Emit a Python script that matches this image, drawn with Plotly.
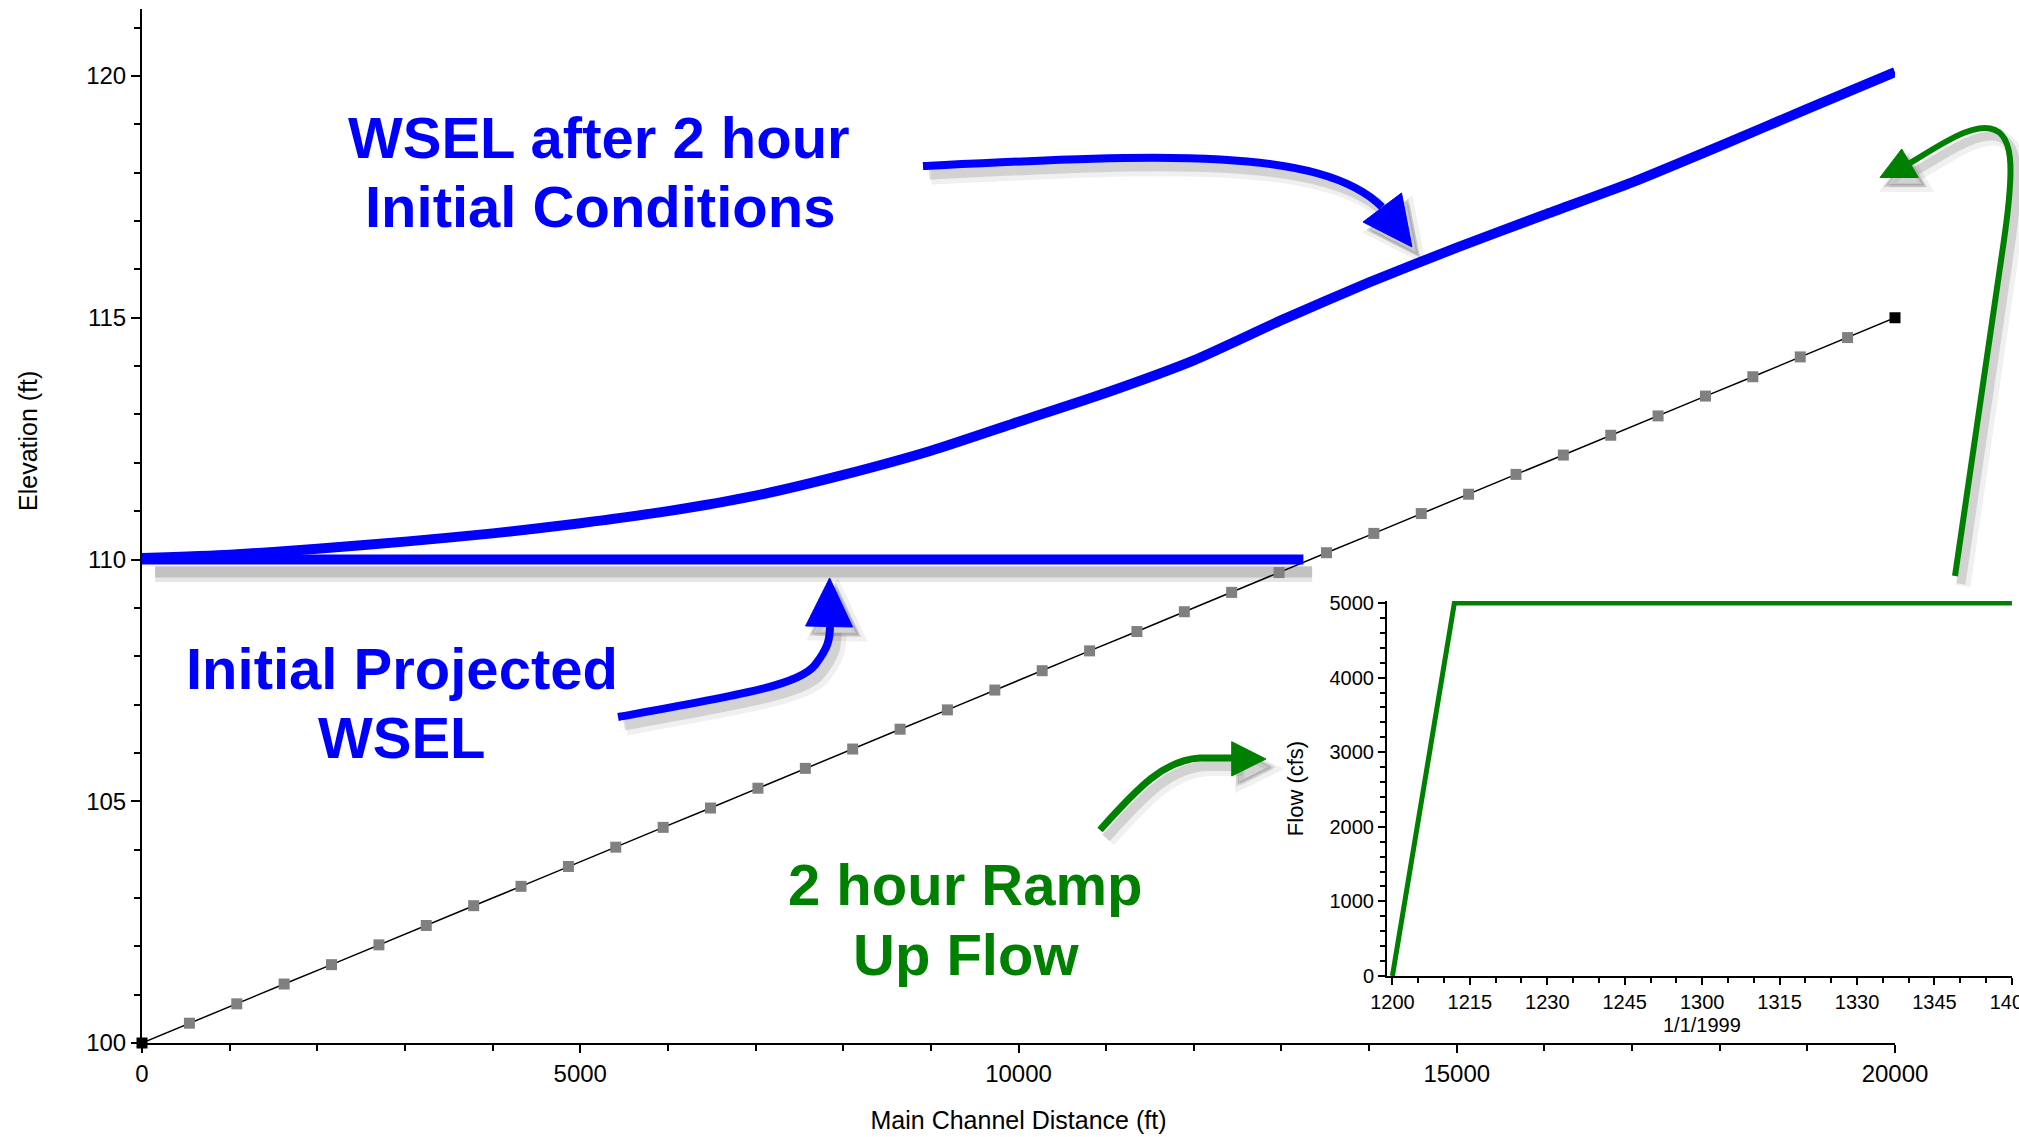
import plotly.graph_objects as go

# ---------------- data ----------------
# Bed profile (cross-section stations)
bed_x = [0, 541, 1081, 1622, 2162, 2703, 3243, 3784, 4324, 4865, 5405, 5946, 6486,
         7027, 7568, 8108, 8649, 9189, 9730, 10270, 10811, 11351, 11892, 12432,
         12973, 13514, 14054, 14595, 15135, 15676, 16216, 16757, 17297, 17838,
         18378, 18919, 19459, 20000]
bed_y = [100.0, 100.41, 100.81, 101.22, 101.62, 102.03, 102.43, 102.84, 103.24,
         103.65, 104.05, 104.46, 104.86, 105.27, 105.68, 106.08, 106.49, 106.89,
         107.30, 107.70, 108.11, 108.51, 108.92, 109.32, 109.73, 110.14, 110.54,
         110.95, 111.35, 111.76, 112.16, 112.57, 112.97, 113.38, 113.78, 114.19,
         114.59, 115.0]

# WSEL after 2 hour initial conditions
wsel_x = [0, 1000, 2000, 3000, 4000, 5000, 6000, 7000, 8000, 9000, 10000,
          11000, 12000, 13000, 14000, 15000, 16000, 17000, 18000, 19000, 20000]
wsel_y = [110.03, 110.1, 110.22, 110.37, 110.54, 110.75, 111.0, 111.32, 111.75,
          112.25, 112.85, 113.45, 114.12, 114.95, 115.73, 116.45, 117.13, 117.8,
          118.55, 119.32, 120.08]

# Initial projected WSEL
proj_x = [0, 13250]
proj_y = [110.0, 110.0]

# Inset: flow hydrograph
flow_t = ["1999-01-01 12:00:00", "1999-01-01 12:12:00", "1999-01-01 14:00:00"]
flow_q = [0, 5000, 5000]

# ---------------- geometry helpers ----------------
W, H = 2019, 1137
L, R, T, B = 142, 0, 9, 94
PW, PH = W - L - R, H - T - B

def fx(x):
    return (x - L) / PW

def fy(y):
    return (H - B - y) / PH

def path(cmds, dx=0, dy=0):
    out = []
    for c in cmds:
        op, pts = c[0], c[1:]
        coords = []
        for i in range(0, len(pts), 2):
            coords.append(f"{fx(pts[i] + dx):.5f},{fy(pts[i + 1] + dy):.5f}")
        out.append(op + " " + " ".join(coords))
    return " ".join(out)

def tri(pts, dx=0, dy=0):
    cmds = [("M",) + pts[0]] + [("L",) + p for p in pts[1:]]
    return path(cmds, dx, dy) + " Z"

BLUE = "#0000FF"
GREEN = "#008000"
FONT = "Arial, Liberation Sans, sans-serif"

fig = go.Figure()

# soft shadow of the projected line
for off, wid, col in [(0.30, 16, "rgba(150,150,150,0.25)"), (0.26, 11, "rgba(150,150,150,0.45)")]:
    fig.add_trace(go.Scatter(x=[proj_x[0] + 150, proj_x[1] + 100],
                             y=[v - off for v in proj_y], mode="lines",
                             line=dict(color=col, width=wid), hoverinfo="skip"))
# bed
mcols = ["black"] + ["#808080"] * (len(bed_x) - 2) + ["black"]
fig.add_trace(go.Scatter(x=bed_x, y=bed_y, mode="lines+markers",
                         line=dict(color="black", width=1.5),
                         marker=dict(symbol="square", size=11, color=mcols,
                                     line=dict(width=0)),
                         cliponaxis=False))
# projected WSEL
fig.add_trace(go.Scatter(x=proj_x, y=proj_y, mode="lines",
                         line=dict(color=BLUE, width=10)))
# WSEL after 2 hr
fig.add_trace(go.Scatter(x=wsel_x, y=wsel_y, mode="lines",
                         line=dict(color=BLUE, width=10, shape="spline", smoothing=0.6)))
# inset flow
fig.add_trace(go.Scatter(x=flow_t, y=flow_q, mode="lines", xaxis="x2", yaxis="y2",
                         line=dict(color=GREEN, width=5)))

# ---------------- arrows ----------------
arrows = [
    dict(color=BLUE, width=8,
         shaft=[("M", 923, 166), ("C", 1150, 155, 1320, 145, 1382, 207)],
         head=[(1412, 247), (1363, 222), (1401.5, 193)]),
    dict(color=BLUE, width=8,
         shaft=[("M", 618, 717), ("C", 740, 695, 800, 685, 815, 665),
                ("C", 828, 648, 830, 640, 830, 625)],
         head=[(829.6, 578), (805.6, 626), (852.6, 627)]),
    dict(color=GREEN, width=7,
         shaft=[("M", 1100, 830), ("C", 1140, 785, 1165, 760, 1200, 758),
                ("L", 1235, 758)],
         head=[(1266, 759), (1231.7, 741.7), (1231.7, 776)]),
    dict(color=GREEN, width=6,
         shaft=[("M", 1955, 576), ("L", 2004, 240),
                ("C", 2014, 170, 2016, 128, 1985, 128),
                ("C", 1965, 128, 1940, 145, 1910, 163)],
         head=[(1880, 177.5), (1901.7, 149), (1918.3, 177.5)]),
]

shapes = []
for a in arrows:
    for (dx, dy, col, extra) in [(8, 10, "rgba(0,0,0,0.06)", 9), (6, 8, "rgba(0,0,0,0.12)", 3)]:
        shapes.append(dict(type="path", xref="paper", yref="paper", layer="above",
                           path=path(a["shaft"], dx, dy),
                           line=dict(color=col, width=a["width"] + extra)))
        shapes.append(dict(type="path", xref="paper", yref="paper", layer="above",
                           path=tri(a["head"], dx, dy), fillcolor=col,
                           line=dict(color=col, width=extra)))
for a in arrows:
    shapes.append(dict(type="path", xref="paper", yref="paper", layer="above",
                       path=path(a["shaft"]),
                       line=dict(color=a["color"], width=a["width"])))
    shapes.append(dict(type="path", xref="paper", yref="paper", layer="above",
                       path=tri(a["head"]), fillcolor=a["color"],
                       line=dict(color=a["color"], width=1)))

# ---------------- annotations ----------------
def big(text, x, y, color):
    return dict(text=text, x=fx(x), y=fy(y), xref="paper", yref="paper",
                showarrow=False, xanchor="center", yanchor="middle",
                font=dict(family=FONT, size=58, color=color, weight="bold"))

annotations = [
    big("WSEL after 2 hour", 599, 137, BLUE),
    big("Initial Conditions", 600, 206.7, BLUE),
    big("Initial Projected", 402, 668, BLUE),
    big("WSEL", 402, 737.8, BLUE),
    big("2 hour Ramp", 965, 884.6, GREEN),
    big("Up Flow", 965.7, 954, GREEN),
    dict(text="Elevation (ft)", x=fx(28), y=fy(441), xref="paper", yref="paper",
         showarrow=False, textangle=-90, xanchor="center", yanchor="middle",
         font=dict(family=FONT, size=25, color="black")),
    dict(text="1/1/1999", x="1999-01-01 13:00:00", xref="x2", y=fy(1025), yref="paper",
         showarrow=False, xanchor="center", yanchor="middle",
         font=dict(family=FONT, size=20, color="black")),
    dict(text='<span style="color:#a0a0a0">2D</span> Initial Conditions Profile',
         x=fx(891), y=fy(23.5), xref="paper", yref="paper", showarrow=False,
         xanchor="center", yanchor="bottom",
         font=dict(family=FONT, size=106, color="#202020")),
]

axis_common = dict(showgrid=False, zeroline=False, showline=True, linecolor="black",
                   ticks="outside", tickcolor="black", automargin=False)

fig.update_layout(
    width=W, height=H, margin=dict(l=L, r=R, t=T, b=B, pad=0),
    paper_bgcolor="white", plot_bgcolor="white", showlegend=False,
    template="none", font=dict(family=FONT, color="black"),
    xaxis=dict(**axis_common, domain=[0, fx(1895)], range=[0, 20000],
               linewidth=2, ticklen=8, tickwidth=1.5, tick0=0, dtick=5000,
               tickformat="d", tickfont=dict(size=24),
               minor=dict(dtick=1000, ticks="outside", ticklen=6, tickwidth=1.5,
                          tickcolor="black", showgrid=False),
               title=dict(text="Main Channel Distance (ft)", font=dict(size=25),
                          standoff=26)),
    yaxis=dict(**axis_common, domain=[0, 1], range=[100, 100 + (1043 - 9) / 48.35],
               linewidth=2, ticklen=9, tickwidth=1.5, tick0=100, dtick=5,
               tickformat="d", tickfont=dict(size=24),
               minor=dict(dtick=1, ticks="outside", ticklen=6, tickwidth=1.5,
                          tickcolor="black", showgrid=False)),
    xaxis2=dict(**axis_common, anchor="y2", domain=[fx(1387), fx(2012)], type="date",
                range=["1999-01-01 11:58:57", "1999-01-01 14:00:01"],
                linewidth=2, ticklen=7, tickwidth=1.5,
                tick0="1999-01-01 12:00:00", dtick=900000, tickformat="%H%M",
                tickfont=dict(size=20), ticklabeloverflow="allow",
                minor=dict(dtick=300000, ticks="outside", ticklen=5, tickwidth=1.5,
                           tickcolor="black", showgrid=False)),
    yaxis2=dict(**axis_common, anchor="x2", domain=[fy(976), fy(601)],
                range=[0, 5027], linewidth=2, ticklen=7, tickwidth=1.5,
                tick0=0, dtick=1000, tickformat="d", tickfont=dict(size=20),
                minor=dict(dtick=200, ticks="outside", ticklen=5, tickwidth=1.5,
                           tickcolor="black", showgrid=False),
                title=dict(text="Flow (cfs)", font=dict(size=22), standoff=20)),
    shapes=shapes,
    annotations=annotations,
)

fig.write_html("out.html")
